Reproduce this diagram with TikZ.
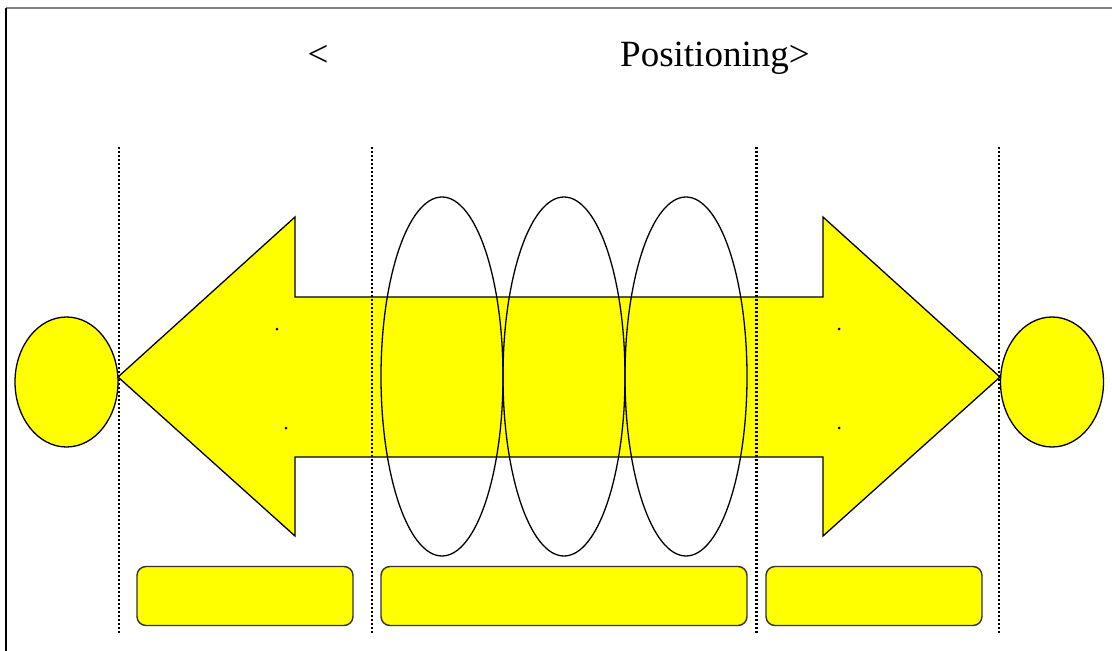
\documentclass[tikz,border=0pt]{standalone}
\usepackage{fontspec}
\setmainfont{Liberation Serif}
\usetikzlibrary{shapes.geometric}
\definecolor{yel}{RGB}{255,255,0}
\definecolor{boxline}{RGB}{50,50,50}
\begin{document}
\begin{tikzpicture}[x=1pt,y=-1pt,
  yfill/.style={fill=yel,draw=black,line width=1.3pt},
  ring/.style={ellipse,draw=black,line width=1.3pt,inner sep=0pt,minimum width=122pt,minimum height=359pt},
  endball/.style={ellipse,yfill,inner sep=0pt,minimum width=103pt,minimum height=130pt},
  stagebox/.style={rectangle,rounded corners=9pt,fill=yel,draw=boxline,line width=1.4pt,inner sep=0pt,minimum height=59pt},
  divider/.style={line width=2.6pt,dash pattern=on 2.4pt off 1.6pt},
  tinydot/.style={circle,fill=black,inner sep=0pt,minimum size=3pt},
  title/.style={font=\fontsize{37}{40}\selectfont,inner sep=0pt,anchor=base}]
\useasboundingbox (0,0) rectangle (1112,651);
% frame
\draw[gray,line width=2pt] (6,8) -- (1112,8);
\draw[black,line width=2pt] (6,8) -- (6,651);
% title
\node[title] (lt) at (318,66) {<};
\node[title,anchor=base west] (tt) at (620,66) {Positioning>};
% double arrow
\draw[yfill] (118,377) -- (295,217) -- (295,297) -- (823,297) -- (823,217) -- (1000,377)
  -- (823,536) -- (823,457) -- (295,457) -- (295,536) -- cycle;
% small dots
\node[tinydot] (d1) at (277,329) {};
\node[tinydot] (d2) at (286,428) {};
\node[tinydot] (d3) at (839,329) {};
\node[tinydot] (d4) at (839,428) {};
% end balls
\node[endball] (lb) at (66.5,382) {};
\node[endball] (rb) at (1052,382) {};
% rings
\node[ring] (r1) at (442,376.5) {};
\node[ring] (r2) at (564,376.5) {};
\node[ring] (r3) at (686,376.5) {};
% stage boxes
\node[stagebox,minimum width=216pt] (b1) at (245,596) {};
\node[stagebox,minimum width=366pt] (b2) at (564,596) {};
\node[stagebox,minimum width=216pt] (b3) at (874,596) {};
% dividers
\coordinate (v1t) at (119,147); \coordinate (v1b) at (119,634);
\coordinate (v2t) at (372,147); \coordinate (v2b) at (372,634);
\coordinate (v3t) at (756.5,147); \coordinate (v3b) at (756.5,634);
\coordinate (v4t) at (999,147); \coordinate (v4b) at (999,634);
\draw[divider] (v1t) -- (v1b);
\draw[divider] (v2t) -- (v2b);
\draw[divider] (v3t) -- (v3b);
\draw[divider] (v4t) -- (v4b);
\end{tikzpicture}
\end{document}
